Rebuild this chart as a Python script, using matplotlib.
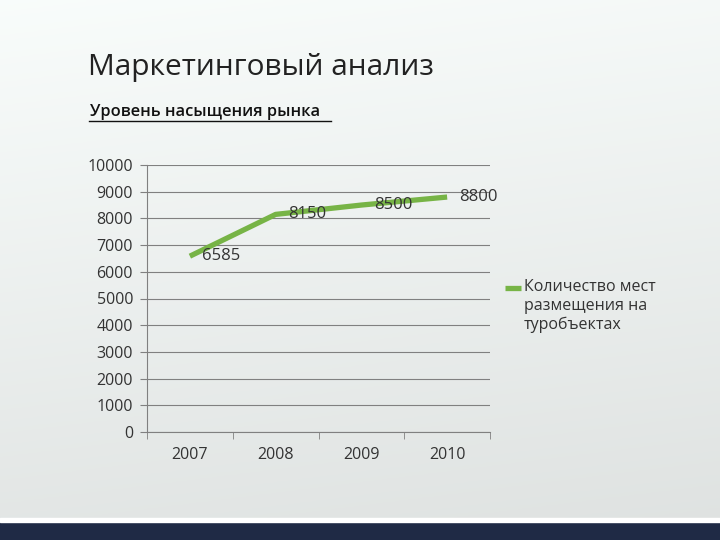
import numpy as np
import matplotlib.pyplot as plt
from matplotlib.lines import Line2D

years = ['2007', '2008', '2009', '2010']
places = [6585, 8150, 8500, 8800]
series_name = ['Количество мест', 'размещения на', 'туробъектах']
y_ticks = list(range(0, 10001, 1000))

plt.rcParams['font.family'] = ['Open Sans', 'DejaVu Sans']
green = '#77b446'

fig = plt.figure(figsize=(7.2, 5.4), dpi=100)

# slide background gradient
bg = fig.add_axes([0, 0, 1, 1], zorder=-10)
yy, xx = np.mgrid[0:1:200j, 0:1:200j]
shade = 0.99 - 0.10 * np.clip(yy * 0.9 + xx * 0.15, 0, 1)
rgb = np.dstack([shade * 0.985, shade, shade * 0.995])
bg.imshow(rgb, extent=[0, 1, 0, 1], aspect='auto', origin='upper')
bg.add_patch(plt.Rectangle((0, 0), 1, 18 / 540, color='#1f2a45', transform=bg.transAxes))
bg.add_patch(plt.Rectangle((0, 18 / 540), 1, 4 / 540, color='white', transform=bg.transAxes))
bg.set_xlim(0, 1)
bg.set_ylim(0, 1)
bg.axis('off')

fig.text(88 / 720, 1 - 68 / 540, 'Маркетинговый анализ', fontsize=21.5, color='#222222', va='center')
fig.text(90 / 720, 1 - 112 / 540, 'Уровень насыщения рынка', fontsize=11.8, color='#111111',
         va='center', fontweight='semibold')
fig.add_artist(Line2D([89 / 720, 331 / 720], [1 - 121 / 540, 1 - 121 / 540], color='#111111', lw=1))

ax = fig.add_axes([147 / 720, 108 / 540, 343 / 720, 267 / 540])
ax.patch.set_alpha(0)
x = np.arange(len(years))
ax.plot(x, places, color=green, lw=3.8, solid_capstyle='butt')
for xi, v in zip(x, places):
    ax.annotate(str(v), (xi, v), xytext=(9, 0), textcoords='offset points',
                fontsize=12, color='#333333', va='center')

ax.set_xlim(-0.5, len(years) - 0.5)
ax.set_ylim(0, 10000)
ax.set_yticks(y_ticks)
ax.set_yticklabels([str(t) for t in y_ticks], fontsize=11.5, color='#333333')
ax.set_xticks(x)
ax.set_xticklabels(years, fontsize=11.5, color='#333333')
ax.set_xticks(np.arange(-0.5, len(years)), minor=True)
ax.tick_params(axis='x', which='major', length=0, pad=11)
ax.tick_params(axis='x', which='minor', length=5, color='#808080')
ax.tick_params(axis='y', length=5, color='#808080', pad=5)
ax.grid(axis='y', color='#808080', lw=0.8)
ax.set_axisbelow(True)
for s in ['top', 'right']:
    ax.spines[s].set_visible(False)
ax.spines['left'].set_color('#808080')
ax.spines['bottom'].set_color('#808080')

# legend: handle level with the first line of the label
fig.add_artist(Line2D([505 / 720, 521 / 720], [1 - 288 / 540, 1 - 288 / 540], color=green, lw=3.8,
                      solid_capstyle='butt'))
fig.text(524 / 720, 1 - 279 / 540, '\n'.join(series_name), fontsize=11.5, color='#333333',
         va='top', linespacing=1.25)

fig.savefig('out.png', dpi=100)
